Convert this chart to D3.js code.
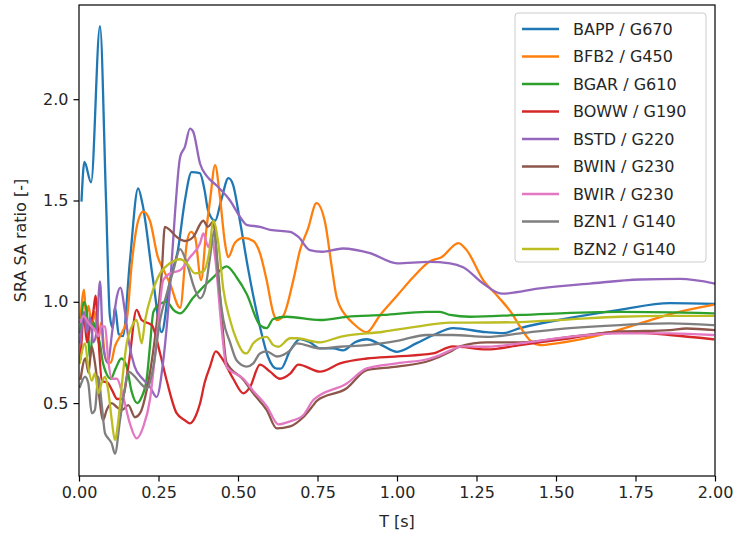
<!DOCTYPE html>
<html>
<head>
<meta charset="utf-8">
<script src="https://cdn.jsdelivr.net/npm/d3@7"></script>
<style>
  html, body { margin: 0; padding: 0; background: #fff; }
  svg { display: block; font-family: "DejaVu Sans", sans-serif; }
</style>
</head>
<body>
<svg id="chart" width="735" height="533"></svg>
<script>
// ---------- data (T [s], SRA SA ratio) ----------
const seriesNames = ["BAPP / G670","BFB2 / G450","BGAR / G610","BOWW / G190","BSTD / G220","BWIN / G230","BWIR / G230","BZN1 / G140","BZN2 / G140"];
const seriesColors = ["#1f77b4","#ff7f0e","#2ca02c","#d62728","#9467bd","#8c564b","#e377c2","#7f7f7f","#bcbd22"];
const xTicks = [0, 0.25, 0.5, 0.75, 1.0, 1.25, 1.5, 1.75, 2.0];
const yTicks = [0.5, 1.0, 1.5, 2.0];

const BAPP = [[0.008,1.50],[0.017,1.69],[0.038,1.59],[0.066,2.36],[0.085,1.50],[0.097,0.93],[0.106,0.87],[0.113,0.975],[0.125,0.84],[0.138,0.83],[0.16,1.20],[0.186,1.56],[0.2,1.48],[0.233,1.107],[0.26,0.85],[0.286,1.107],[0.311,1.255],[0.333,1.50],[0.354,1.64],[0.38,1.635],[0.395,1.55],[0.406,1.45],[0.428,1.40],[0.447,1.50],[0.47,1.61],[0.484,1.58],[0.506,1.40],[0.531,1.17],[0.569,0.877],[0.594,0.73],[0.622,0.67],[0.635,0.67],[0.664,0.76],[0.695,0.816],[0.726,0.80],[0.758,0.77],[0.80,0.77],[0.83,0.76],[0.868,0.80],[0.905,0.815],[0.947,0.79],[1.0,0.753],[1.062,0.796],[1.12,0.84],[1.176,0.87],[1.28,0.85],[1.333,0.845],[1.387,0.87],[1.544,0.92],[1.70,0.96],[1.858,0.993],[2.0,0.99]];
const BFB2 = [[0.005,0.92],[0.016,1.06],[0.022,0.93],[0.03,0.98],[0.04,0.88],[0.05,0.95],[0.06,0.80],[0.07,0.90],[0.08,0.75],[0.09,0.70],[0.10,0.70],[0.113,0.78],[0.129,0.83],[0.15,0.91],[0.166,1.19],[0.186,1.40],[0.202,1.445],[0.223,1.40],[0.248,1.22],[0.265,1.16],[0.286,1.09],[0.318,0.97],[0.34,1.30],[0.352,1.345],[0.365,1.32],[0.384,1.107],[0.40,1.35],[0.412,1.50],[0.428,1.675],[0.443,1.52],[0.459,1.29],[0.469,1.22],[0.49,1.29],[0.517,1.315],[0.548,1.30],[0.569,1.24],[0.59,1.107],[0.611,0.945],[0.622,0.91],[0.642,0.93],[0.674,1.107],[0.695,1.255],[0.72,1.36],[0.747,1.487],[0.774,1.39],[0.795,1.17],[0.81,1.025],[0.842,0.926],[0.858,0.90],[0.905,0.85],[0.947,0.935],[1.0,1.03],[1.05,1.12],[1.104,1.20],[1.14,1.22],[1.193,1.29],[1.219,1.255],[1.271,1.107],[1.318,1.025],[1.361,0.943],[1.387,0.877],[1.418,0.81],[1.45,0.786],[1.502,0.795],[1.659,0.844],[1.764,0.893],[1.868,0.943],[1.994,0.985]];
const BGAR = [[0.005,0.85],[0.015,1.0],[0.024,0.96],[0.035,0.72],[0.045,0.90],[0.055,0.85],[0.065,0.80],[0.075,0.70],[0.085,0.65],[0.10,0.62],[0.115,0.67],[0.133,0.72],[0.15,0.68],[0.165,0.56],[0.183,0.50],[0.197,0.53],[0.213,0.62],[0.223,0.78],[0.234,0.95],[0.255,0.99],[0.276,1.0],[0.297,0.96],[0.318,0.943],[0.359,1.02],[0.422,1.12],[0.464,1.175],[0.496,1.12],[0.527,1.04],[0.569,0.885],[0.59,0.87],[0.611,0.915],[0.653,0.926],[0.758,0.91],[0.842,0.926],[0.957,0.935],[1.093,0.95],[1.135,0.95],[1.167,0.935],[1.23,0.926],[1.387,0.935],[1.701,0.95],[1.994,0.943]];
const BOWW = [[0.005,0.72],[0.016,0.92],[0.025,0.80],[0.035,0.88],[0.045,0.95],[0.052,1.03],[0.06,0.85],[0.072,0.61],[0.09,0.60],[0.105,0.56],[0.12,0.52],[0.135,0.52],[0.157,0.70],[0.181,0.96],[0.197,0.91],[0.229,0.885],[0.255,0.745],[0.276,0.61],[0.307,0.45],[0.333,0.415],[0.349,0.40],[0.368,0.44],[0.381,0.50],[0.395,0.60],[0.412,0.68],[0.43,0.755],[0.45,0.72],[0.485,0.62],[0.517,0.548],[0.538,0.58],[0.569,0.69],[0.601,0.655],[0.632,0.62],[0.664,0.645],[0.69,0.69],[0.758,0.655],[0.821,0.696],[0.905,0.72],[1.0,0.73],[1.113,0.745],[1.176,0.78],[1.282,0.765],[1.387,0.786],[1.544,0.82],[1.701,0.852],[1.858,0.836],[1.994,0.815]];
const BSTD = [[0.005,0.80],[0.016,0.95],[0.025,0.85],[0.035,0.92],[0.045,0.80],[0.055,0.85],[0.066,1.10],[0.076,0.78],[0.09,0.70],[0.105,0.86],[0.119,1.025],[0.13,1.07],[0.145,0.945],[0.157,0.80],[0.175,0.68],[0.2,0.62],[0.223,0.58],[0.244,0.53],[0.265,0.71],[0.286,1.07],[0.302,1.44],[0.318,1.715],[0.333,1.765],[0.349,1.855],[0.359,1.84],[0.381,1.68],[0.402,1.62],[0.432,1.575],[0.475,1.50],[0.506,1.42],[0.527,1.38],[0.569,1.37],[0.601,1.355],[0.664,1.345],[0.69,1.32],[0.726,1.255],[0.765,1.247],[0.83,1.263],[0.915,1.24],[1.0,1.19],[1.10,1.197],[1.167,1.19],[1.208,1.17],[1.271,1.09],[1.329,1.04],[1.45,1.066],[1.607,1.09],[1.764,1.11],[1.89,1.113],[2.0,1.09]];
const BWIN = [[0.005,0.62],[0.02,0.72],[0.03,0.65],[0.04,0.78],[0.05,0.70],[0.061,0.565],[0.076,0.416],[0.087,0.466],[0.103,0.50],[0.119,0.48],[0.135,0.465],[0.155,0.49],[0.176,0.43],[0.192,0.45],[0.213,0.565],[0.244,0.89],[0.26,1.14],[0.27,1.37],[0.286,1.354],[0.307,1.32],[0.333,1.30],[0.359,1.32],[0.391,1.40],[0.405,1.37],[0.422,1.395],[0.435,1.2],[0.45,0.90],[0.464,0.70],[0.517,0.615],[0.548,0.548],[0.59,0.466],[0.622,0.375],[0.664,0.385],[0.705,0.43],[0.737,0.49],[0.747,0.51],[0.842,0.573],[0.905,0.663],[1.0,0.68],[1.104,0.71],[1.167,0.753],[1.198,0.78],[1.282,0.80],[1.387,0.80],[1.544,0.827],[1.701,0.852],[1.858,0.86],[1.91,0.868],[2.0,0.86]];
const BWIR = [[0.005,0.90],[0.0135,0.93],[0.03,0.895],[0.05,0.86],[0.061,0.83],[0.071,0.88],[0.082,0.877],[0.092,0.71],[0.103,0.62],[0.119,0.62],[0.139,0.53],[0.16,0.40],[0.181,0.326],[0.202,0.383],[0.223,0.515],[0.244,0.81],[0.265,1.107],[0.286,1.14],[0.318,1.156],[0.349,1.22],[0.381,1.29],[0.391,1.337],[0.407,1.27],[0.417,1.32],[0.428,1.22],[0.449,0.86],[0.464,0.68],[0.517,0.62],[0.548,0.56],[0.59,0.485],[0.627,0.395],[0.664,0.41],[0.705,0.44],[0.737,0.515],[0.842,0.597],[0.905,0.671],[1.0,0.696],[1.104,0.72],[1.135,0.737],[1.208,0.78],[1.282,0.778],[1.387,0.795],[1.544,0.827],[1.701,0.844],[1.858,0.844],[1.994,0.836]];
const BZN1 = [[0.003,0.58],[0.019,0.63],[0.029,0.60],[0.04,0.45],[0.05,0.466],[0.061,0.63],[0.071,0.50],[0.082,0.35],[0.092,0.326],[0.103,0.30],[0.113,0.25],[0.129,0.416],[0.145,0.58],[0.155,0.655],[0.176,0.63],[0.192,0.60],[0.213,0.573],[0.234,0.68],[0.255,0.91],[0.276,1.04],[0.297,1.156],[0.318,1.26],[0.339,1.19],[0.365,1.058],[0.381,1.017],[0.396,1.058],[0.412,1.22],[0.425,1.35],[0.438,1.107],[0.454,0.91],[0.475,0.80],[0.496,0.71],[0.527,0.68],[0.548,0.696],[0.569,0.745],[0.59,0.755],[0.622,0.73],[0.664,0.76],[0.685,0.795],[0.758,0.77],[0.821,0.778],[0.905,0.786],[1.009,0.81],[1.093,0.836],[1.176,0.836],[1.282,0.827],[1.387,0.844],[1.544,0.87],[1.701,0.885],[1.858,0.893],[1.994,0.885]];
const BZN2 = [[0.003,0.70],[0.019,0.795],[0.029,0.68],[0.04,0.61],[0.05,0.647],[0.061,0.548],[0.071,0.60],[0.082,0.63],[0.092,0.56],[0.103,0.416],[0.113,0.317],[0.124,0.42],[0.134,0.58],[0.15,0.795],[0.166,0.877],[0.181,0.91],[0.197,0.795],[0.208,0.91],[0.229,1.04],[0.255,1.14],[0.286,1.19],[0.318,1.21],[0.339,1.19],[0.365,1.14],[0.391,1.15],[0.41,1.25],[0.422,1.40],[0.438,1.29],[0.454,1.06],[0.475,0.91],[0.496,0.81],[0.517,0.75],[0.527,0.745],[0.548,0.795],[0.569,0.82],[0.59,0.827],[0.611,0.786],[0.627,0.778],[0.664,0.82],[0.685,0.82],[0.758,0.80],[0.821,0.827],[0.957,0.852],[1.062,0.877],[1.167,0.897],[1.23,0.897],[1.387,0.90],[1.544,0.913],[1.701,0.926],[1.858,0.93],[1.994,0.93]];

const seriesData = [BAPP, BFB2, BGAR, BOWW, BSTD, BWIN, BWIR, BZN1, BZN2];

// ---------- layout ----------
const W = 735, H = 533;
const margin = {left: 79, top: 5, right: 20, bottom: 57};
const svg = d3.select("#chart");
const x = d3.scaleLinear().domain([0, 2.0]).range([margin.left, W - margin.right]);
const y = d3.scaleLinear().domain([0.14, 2.465]).range([H - margin.bottom, margin.top]);

svg.append("defs").append("clipPath").attr("id", "plotclip")
  .append("rect").attr("x", margin.left).attr("y", margin.top)
  .attr("width", W - margin.left - margin.right).attr("height", H - margin.top - margin.bottom);

const line = d3.line().x(d => x(d[0])).y(d => y(d[1])).curve(d3.curveMonotoneX);
const plot = svg.append("g").attr("clip-path", "url(#plotclip)");
seriesData.forEach((s, i) => {
  plot.append("path").datum(s).attr("d", line)
    .attr("fill", "none").attr("stroke", seriesColors[i])
    .attr("stroke-width", 2.3).attr("stroke-linejoin", "round").attr("stroke-linecap", "square");
});

// axes
const xAxis = d3.axisBottom(x).tickValues(xTicks).tickFormat(d3.format(".2f")).tickSize(5.5).tickPadding(5);
const yAxis = d3.axisLeft(y).tickValues(yTicks).tickFormat(d3.format(".1f")).tickSize(5.5).tickPadding(5);
const gx = svg.append("g").attr("transform", `translate(0,${H - margin.bottom})`).call(xAxis);
const gy = svg.append("g").attr("transform", `translate(${margin.left},0)`).call(yAxis);
[gx, gy].forEach(g => {
  g.select(".domain").remove();
  g.selectAll(".tick line").attr("stroke", "#000").attr("stroke-width", 1.2);
  g.selectAll(".tick text").attr("fill", "#262626").style("font-size", "16px").style("font-family", "DejaVu Sans");
});

// frame
svg.append("rect").attr("x", margin.left).attr("y", margin.top)
  .attr("width", W - margin.left - margin.right).attr("height", H - margin.top - margin.bottom)
  .attr("fill", "none").attr("stroke", "#000").attr("stroke-width", 1.2);

// axis labels
svg.append("text").attr("x", (margin.left + W - margin.right) / 2).attr("y", 527)
  .attr("text-anchor", "middle").attr("fill", "#262626").style("font-size", "16px").text("T [s]");
svg.append("text").attr("transform", `translate(26,${(margin.top + H - margin.bottom) / 2}) rotate(-90)`)
  .attr("text-anchor", "middle").attr("fill", "#262626").style("font-size", "16px").text("SRA SA ratio [-]");

// legend
const lg = svg.append("g");
const lgX = 515, lgY = 13, lgW = 191, lgH = 249, rowH = 27.5;
lg.append("rect").attr("x", lgX).attr("y", lgY).attr("width", lgW).attr("height", lgH)
  .attr("rx", 3).attr("fill", "#fff").attr("fill-opacity", 0.8).attr("stroke", "#cccccc").attr("stroke-width", 1);
seriesNames.forEach((n, i) => {
  const cy = lgY + 16 + i * rowH;
  lg.append("line").attr("x1", lgX + 7).attr("x2", lgX + 44).attr("y1", cy).attr("y2", cy)
    .attr("stroke", seriesColors[i]).attr("stroke-width", 2.3);
  lg.append("text").attr("x", lgX + 58).attr("y", cy).attr("dy", "0.35em")
    .attr("fill", "#262626").style("font-size", "16px").text(n);
});
</script>
</body>
</html>
